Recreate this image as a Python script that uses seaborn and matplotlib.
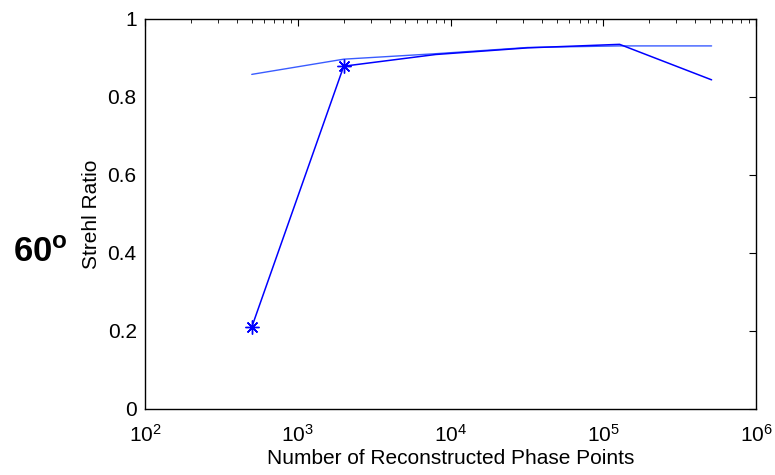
import matplotlib
matplotlib.use("Agg")
import matplotlib.pyplot as plt
import seaborn as sns
import pandas as pd
import numpy as np
from matplotlib.ticker import LogLocator

# Data
points = [500, 2000, 8000, 32000, 128000, 512000]
strehl_star = [0.21, 0.879, 0.909, 0.926, 0.935, 0.844]
strehl_plain = [0.858, 0.897, 0.911, 0.927, 0.931, 0.931]
y_ticks = [0, 0.2, 0.4, 0.6, 0.8, 1]
y_tick_labels = ["0", "0.2", "0.4", "0.6", "0.8", "1"]

sns.set_style("white")
plt.rcParams['font.family'] = ['Liberation Sans', 'DejaVu Sans']
plt.rcParams['mathtext.fontset'] = 'custom'
plt.rcParams['mathtext.rm'] = 'Liberation Sans'
plt.rcParams['mathtext.bf'] = 'Liberation Sans:bold'
plt.rcParams['text.color'] = 'black'
plt.rcParams['axes.labelcolor'] = 'black'
plt.rcParams['xtick.color'] = 'black'
plt.rcParams['ytick.color'] = 'black'

df = pd.DataFrame({"points": points, "star": strehl_star, "plain": strehl_plain})

fig = plt.figure(figsize=(7.75, 4.75), dpi=100)
ax = fig.add_axes([145/775, 1-409/475, (756-145)/775, (409-19)/475])

sns.lineplot(data=df, x="points", y="plain", ax=ax, color="#3a5cff", linewidth=1.0)
sns.lineplot(data=df, x="points", y="star", ax=ax, color="#0000ff", linewidth=1.1,
             marker=(8, 2, 0), markersize=10, markevery=[0, 1],
             markeredgecolor="#0000ff", markeredgewidth=1.0)

ax.set_xscale("log")
ax.set_xlim(1e2, 1e6)
ax.set_ylim(0, 1)
ax.set_yticks(y_ticks)
ax.set_yticklabels(y_tick_labels)
ax.xaxis.set_major_locator(LogLocator(base=10, numticks=10))
ax.xaxis.set_minor_locator(LogLocator(base=10, subs=np.arange(2, 10), numticks=20))

for s in ax.spines.values():
    s.set_visible(True)
    s.set_color("black")
    s.set_linewidth(1.0)

ax.tick_params(which="both", direction="in", top=True, right=True, labelsize=15,
               colors="black", labelcolor="black", pad=6)
ax.tick_params(which="major", length=5, width=0.8)
ax.tick_params(which="minor", length=3, width=0.6)
ax.tick_params(axis="x", which="major", pad=11)

ax.set_xlabel("Number of Reconstructed Phase Points", fontsize=15, labelpad=2, color="black")
ax.set_ylabel("Strehl Ratio", fontsize=15, labelpad=5, color="black")

fig.text(40/775, 1-253/475, r"$\mathbf{60^{o}}$", fontsize=25, ha="center", va="center",
         color="black")

fig.savefig("out.png", dpi=100)
